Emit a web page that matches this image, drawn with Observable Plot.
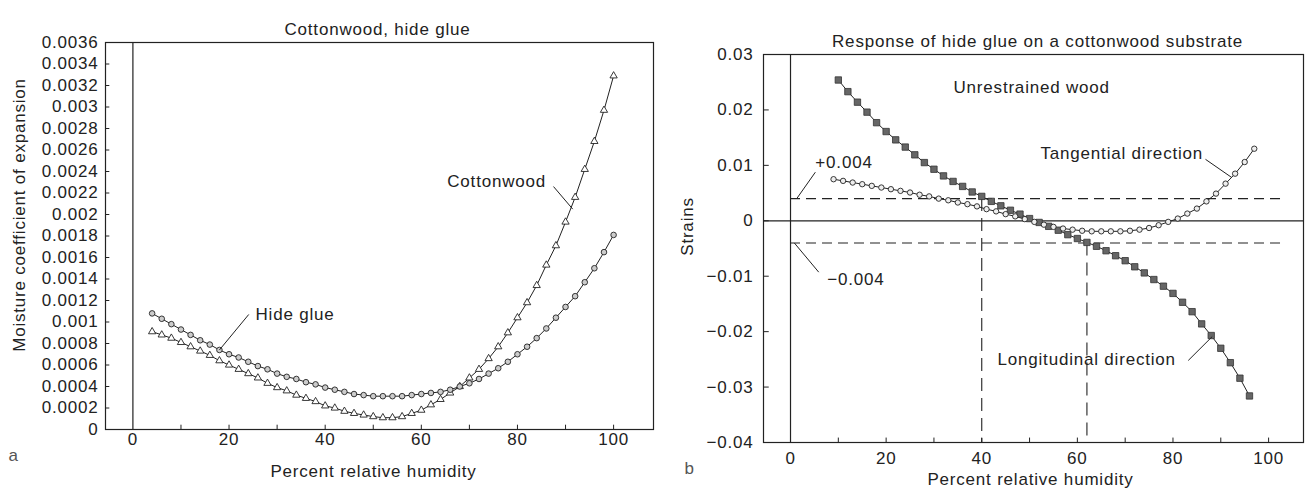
<!DOCTYPE html>
<html>
<head>
<meta charset="utf-8">
<script src="https://cdn.jsdelivr.net/npm/d3@7"></script>
<script src="https://cdn.jsdelivr.net/npm/@observablehq/plot@0.6"></script>
<style>
  html, body { margin: 0; padding: 0; background: #fff; }
  #fig { position: relative; width: 1307px; height: 493px; overflow: hidden; background: #fff; }
  #fig svg { position: absolute; top: 0; }
  #fig svg text { letter-spacing: 0.8px; }
</style>
</head>
<body>
<div id="fig"></div>
<script>
// ---------- Panel a: moisture coefficient of expansion ----------
const rhA = [4, 6, 8, 10, 12, 14, 16, 18, 20, 22, 24, 26, 28, 30, 32, 34, 36, 38, 40, 42, 44, 46, 48, 50,
  52, 54, 56, 58, 60, 62, 64, 66, 68, 70, 72, 74, 76, 78, 80, 82, 84, 86, 88, 90, 92, 94, 96, 98, 100];
const hideGlue = [0.00108, 0.00103, 0.00098, 0.00093, 0.00088, 0.00083, 0.00079, 0.00074, 0.00070, 0.00067,
  0.00063, 0.00059, 0.00056, 0.00052, 0.00049, 0.00047, 0.00044, 0.00042, 0.00039, 0.00037, 0.00035, 0.00033,
  0.00032, 0.00031, 0.00031, 0.00031, 0.00031, 0.00032, 0.00033, 0.00034, 0.00035, 0.00037, 0.00040, 0.00043,
  0.00047, 0.00052, 0.00057, 0.00063, 0.00070, 0.00077, 0.00085, 0.00094, 0.00104, 0.00114, 0.00124, 0.00137,
  0.00150, 0.00165, 0.00181];
const cottonwood = [0.00091, 0.00088, 0.00085, 0.00081, 0.00077, 0.00073, 0.00069, 0.00064, 0.00060, 0.00056,
  0.00052, 0.00048, 0.00043, 0.00039, 0.00036, 0.00032, 0.00029, 0.00026, 0.00022, 0.00020, 0.00017, 0.00015,
  0.000135, 0.00012, 0.00011, 0.00011, 0.00012, 0.00015, 0.00018, 0.00023, 0.00028, 0.00034, 0.00040, 0.00048,
  0.00056, 0.00066, 0.00077, 0.00090, 0.00104, 0.00118, 0.00134, 0.00153, 0.00171, 0.00193, 0.00216, 0.00242,
  0.00268, 0.00297, 0.00329];
const yTicksA = [0, 0.0002, 0.0004, 0.0006, 0.0008, 0.001, 0.0012, 0.0014, 0.0016, 0.0018, 0.002,
  0.0022, 0.0024, 0.0026, 0.0028, 0.003, 0.0032, 0.0034, 0.0036];

// ---------- Panel b: strains of hide glue on cottonwood ----------
const rhTangential = [9, 11, 13, 15, 17, 19, 21, 23, 25, 27, 29, 31, 33, 35, 37, 39, 41, 43, 45, 47, 49,
  51, 53, 55, 57, 59, 61, 63, 65, 67, 69, 71, 73, 75, 77, 79, 81, 83, 85, 87, 89, 91, 93, 95, 97];
const tangential = [0.0075, 0.0072, 0.0069, 0.0066, 0.0063, 0.0060, 0.0057, 0.0054, 0.0051, 0.0047, 0.0044,
  0.0040, 0.0037, 0.0033, 0.0030, 0.0026, 0.0021, 0.0017, 0.0012, 0.0008, 0.0003, -0.0002, -0.0007, -0.0011,
  -0.0014, -0.0016, -0.0018, -0.0019, -0.0019, -0.0019, -0.0019, -0.0018, -0.0016, -0.0013, -0.0008, -0.0002,
  0.0004, 0.0013, 0.0022, 0.0035, 0.0049, 0.0067, 0.0085, 0.0106, 0.0130];
const rhLongitudinal = [10, 12, 14, 16, 18, 20, 22, 24, 26, 28, 30, 32, 34, 36, 38, 40, 42, 44, 46, 48, 50,
  52, 54, 56, 58, 60, 62, 64, 66, 68, 70, 72, 74, 76, 78, 80, 82, 84, 86, 88, 90, 92, 94, 96];
const longitudinal = [0.0254, 0.0233, 0.0214, 0.0196, 0.0177, 0.0161, 0.0146, 0.0133, 0.0119, 0.0105, 0.0093,
  0.0081, 0.0071, 0.0062, 0.0052, 0.0044, 0.0035, 0.0027, 0.0019, 0.0012, 0.0004, -0.0003, -0.0010, -0.0017,
  -0.0025, -0.0032, -0.0039, -0.0046, -0.0054, -0.0063, -0.0072, -0.0083, -0.0094, -0.0106, -0.0118, -0.0131,
  -0.0147, -0.0164, -0.0186, -0.0207, -0.0230, -0.0256, -0.0284, -0.0316];
const yTicksB = [-0.04, -0.03, -0.02, -0.01, 0, 0.01, 0.02, 0.03];
const strainLimits = [0.004, -0.004];
const limitCrossings = [{rh: 40, strain: 0.004}, {rh: 62, strain: -0.004}];

const xLabels = [0, 20, 40, 60, 80, 100];
const xMinorTicks = [10, 20, 30, 40, 50, 60, 70, 80, 90, 100];

// ---------- shared styling ----------
const ink = "#222";
const font = {fontFamily: "'Liberation Sans', Arial, Helvetica, sans-serif", fontSize: "17px", color: ink, background: "#fff", overflow: "visible"};
const fmt = d => d < 0 ? "\u2212" + String(-d) : String(d);
const zip = (xs, ys) => xs.map((rh, i) => ({rh, v: ys[i]}));

const xDomainA = [-5.7, 108.3];
const yDomainA = [0, 0.0036];

const panelA = Plot.plot({
  width: 665, height: 493,
  marginLeft: 105, marginRight: 12, marginTop: 42, marginBottom: 64,
  x: {domain: xDomainA},
  y: {domain: yDomainA},
  style: font,
  marks: [
    Plot.frame({stroke: ink, strokeWidth: 1.2}),
    Plot.ruleX([0], {stroke: ink, strokeWidth: 1.2}),
    Plot.axisY({ticks: yTicksA, tickSize: 0, tickPadding: 7, tickFormat: fmt, label: null}),
    Plot.axisX({ticks: xLabels, tickSize: 0, tickPadding: 3, tickFormat: fmt, label: null}),
    Plot.ruleY(yTicksA, {x1: xDomainA[0], x2: xDomainA[0] + 0.9, stroke: ink}),
    Plot.ruleX(xMinorTicks, {y1: 0, y2: 0.00004, stroke: ink}),

    Plot.line(zip(rhA, cottonwood), {x: "rh", y: "v", stroke: ink, strokeWidth: 1}),
    Plot.line(zip(rhA, hideGlue), {x: "rh", y: "v", stroke: ink, strokeWidth: 1}),
    Plot.dot(zip(rhA, cottonwood), {x: "rh", y: "v", symbol: "triangle", r: 2.7, fill: "#fff", stroke: ink, strokeWidth: 0.9}),
    Plot.dot(zip(rhA, hideGlue), {x: "rh", y: "v", r: 2.8, fill: "#ccc", stroke: ink, strokeWidth: 0.9}),

    // curve labels with leaders
    Plot.text(["Cottonwood"], {x: 65.4, y: 0.00231, textAnchor: "start"}),
    Plot.link([0], {x1: 87.5, y1: 0.00226, x2: 91.5, y2: 0.00205, stroke: ink, strokeWidth: 1}),
    Plot.text(["Hide glue"], {x: 25.5, y: 0.00107, textAnchor: "start"}),
    Plot.link([0], {x1: 24.1, y1: 0.00107, x2: 18, y2: 0.00074, stroke: ink, strokeWidth: 1}),

    // titles and axis labels
    Plot.text(["Cottonwood, hide glue"], {frameAnchor: "top", dx: -2, dy: -20}),
    Plot.text(["Moisture coefficient of expansion"], {frameAnchor: "left", textAnchor: "middle", rotate: -90, dx: -86, dy: -21}),
    Plot.text(["Percent relative humidity"], {frameAnchor: "bottom", dx: -6, dy: 47}),
    Plot.text(["a"], {frameAnchor: "bottom-left", dx: -97, dy: 31, fill: "#555"})
  ]
});
panelA.style.left = "0px";

const xDomainB = [-5.65, 107.3];
const yDomainB = [-0.04, 0.03];

const panelB = Plot.plot({
  width: 642, height: 493,
  marginLeft: 98, marginRight: 4, marginTop: 54, marginBottom: 51,
  x: {domain: xDomainB},
  y: {domain: yDomainB},
  style: font,
  marks: [
    Plot.frame({stroke: ink, strokeWidth: 1.2}),
    Plot.ruleX([0], {stroke: ink, strokeWidth: 1.2}),
    Plot.ruleY([0], {stroke: ink, strokeWidth: 1.2}),
    Plot.axisY({ticks: yTicksB, tickSize: 0, tickPadding: 10, tickFormat: fmt, label: null}),
    Plot.axisX({ticks: xLabels, tickSize: 0, tickPadding: 9, tickFormat: fmt, label: null}),
    Plot.ruleY(yTicksB, {x1: xDomainB[0], x2: xDomainB[0] + 1.2, stroke: ink}),
    Plot.ruleX(xMinorTicks, {y1: -0.04, y2: -0.0392, stroke: ink}),

    // strain limits and where the longitudinal curve reaches them
    Plot.ruleY(strainLimits, {x1: 0, x2: 103.5, stroke: ink, strokeWidth: 1.1, strokeDasharray: "10,6"}),
    Plot.ruleX(limitCrossings, {x: "rh", y1: "strain", y2: -0.04, stroke: ink, strokeWidth: 1.1, strokeDasharray: "13,7"}),

    Plot.line(zip(rhLongitudinal, longitudinal), {x: "rh", y: "v", stroke: ink, strokeWidth: 1}),
    Plot.line(zip(rhTangential, tangential), {x: "rh", y: "v", stroke: ink, strokeWidth: 1}),
    Plot.dot(zip(rhLongitudinal, longitudinal), {x: "rh", y: "v", symbol: "square", r: 3.6, fill: "#666", stroke: "#333", strokeWidth: 0.8}),
    Plot.dot(zip(rhTangential, tangential), {x: "rh", y: "v", r: 2.7, fill: "#eee", stroke: ink, strokeWidth: 0.9}),

    // annotations
    Plot.text(["Unrestrained wood"], {x: 34.1, y: 0.02405, textAnchor: "start"}),
    Plot.text(["Tangential direction"], {x: 52.3, y: 0.01214, textAnchor: "start"}),
    Plot.link([0], {x1: 86.8, y1: 0.01109, x2: 92.3, y2: 0.0078, stroke: ink, strokeWidth: 1}),
    Plot.text(["Longitudinal direction"], {x: 43.3, y: -0.02502, textAnchor: "start"}),
    Plot.link([0], {x1: 83.2, y1: -0.0252, x2: 88.2, y2: -0.0209, stroke: ink, strokeWidth: 1}),
    Plot.text(["+0.004"], {x: 5.2, y: 0.01052, textAnchor: "start"}),
    Plot.link([0], {x1: 5.2, y1: 0.00877, x2: 1.3, y2: 0.004, stroke: ink, strokeWidth: 1}),
    Plot.text(["\u22120.004"], {x: 7.7, y: -0.01059, textAnchor: "start"}),
    Plot.link([0], {x1: 5.9, y1: -0.00927, x2: 0.8, y2: -0.004, stroke: ink, strokeWidth: 1}),

    // titles and axis labels
    Plot.text(["Response of hide glue on a cottonwood substrate"], {frameAnchor: "top", dx: 4, dy: -20}),
    Plot.text(["Strains"], {frameAnchor: "left", textAnchor: "middle", rotate: -90, dx: -76, dy: -22}),
    Plot.text(["Percent relative humidity"], {frameAnchor: "bottom", dx: -3, dy: 42}),
    Plot.text(["b"], {frameAnchor: "bottom-left", dx: -79, dy: 31, fill: "#555"})
  ]
});
panelB.style.left = "665px";

const fig = document.getElementById("fig");
fig.append(panelA, panelB);
</script>
</body>
</html>
